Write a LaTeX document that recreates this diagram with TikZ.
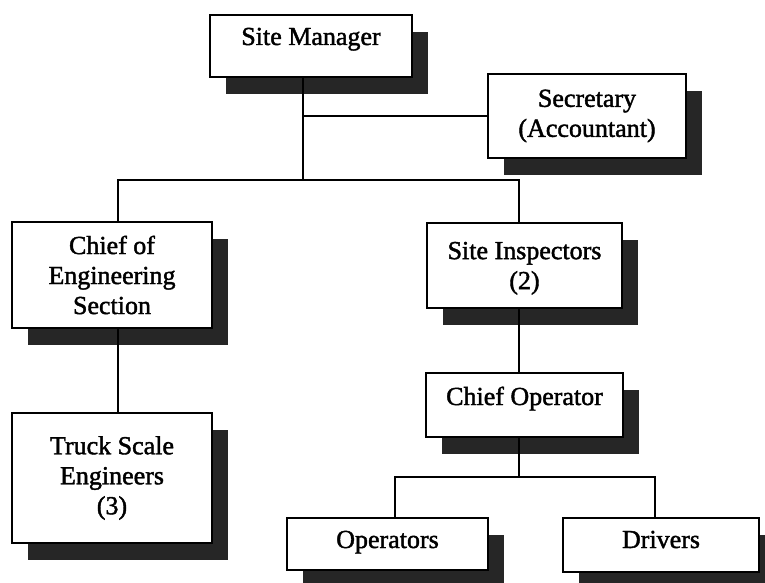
\documentclass[tikz,border=0pt]{standalone}
\usepackage{fontspec}
\setmainfont[FakeBold=1.6]{Liberation Serif}
\usetikzlibrary{shadows}
\tikzset{
  post/.style={draw=black, line width=1.8pt, fill=white, align=center,
    inner sep=0pt, font=\fontsize{26}{30}\selectfont,
    drop shadow={shadow xshift=16pt, shadow yshift=-17pt, fill=black!85, opacity=1}},
  link/.style={line width=2.2pt}
}
\begin{document}
\begin{tikzpicture}[x=1pt,y=-1pt]
\useasboundingbox (0,0) rectangle (765,583);
\clip (0,0) rectangle (765,583);
\fill[white] (0,0) rectangle (765,583);

% staff boxes
\node[post, minimum width=202pt, minimum height=62pt, text height=17pt, text depth=19pt]
  (mgr) at (311,46) {Site Manager};
\node[post, minimum width=198pt, minimum height=84pt]
  (sec) at (587,116) {Secretary\\(Accountant)};
\node[post, minimum width=200pt, minimum height=106pt]
  (eng) at (112,275) {Chief of\\Engineering\\Section};
\node[post, minimum width=195pt, minimum height=85pt, text depth=0pt]
  (insp) at (524.5,265.5) {Site Inspectors\\(2)};
\node[post, minimum width=200pt, minimum height=130pt]
  (trk) at (112,478) {Truck Scale\\Engineers\\(3)};
\node[post, minimum width=197pt, minimum height=64pt, text height=17pt, text depth=17pt]
  (cop) at (524.5,405) {Chief Operator};
\node[post, minimum width=201pt, minimum height=52pt, text height=17pt, text depth=9pt]
  (ops) at (387.5,544) {Operators};
\node[post, minimum width=196pt, minimum height=54pt, text height=17pt, text depth=11pt]
  (drv) at (661,545) {Drivers};

% taps on the lines
\coordinate (spine) at (303,180);
\coordinate (engtap) at (118,180);
\coordinate (insptap) at (519,180);
\coordinate (opstap) at (395,477);
\coordinate (drvtap) at (655,477);

\draw[link] (mgr.south -| spine) -- (spine);
\draw[link] (spine |- sec.west) -- (sec.west);
\draw[link] (engtap |- eng.north) -- (engtap) -- (insptap) -- (insptap |- insp.north);
\draw[link] (engtap |- eng.south) -- (engtap |- trk.north);
\draw[link] (insptap |- insp.south) -- (insptap |- cop.north);
\draw[link] (insptap |- cop.south) -- (insptap |- opstap);
\draw[link] (opstap |- ops.north) -- (opstap) -- (drvtap) -- (drvtap |- drv.north);
\end{tikzpicture}
\end{document}
